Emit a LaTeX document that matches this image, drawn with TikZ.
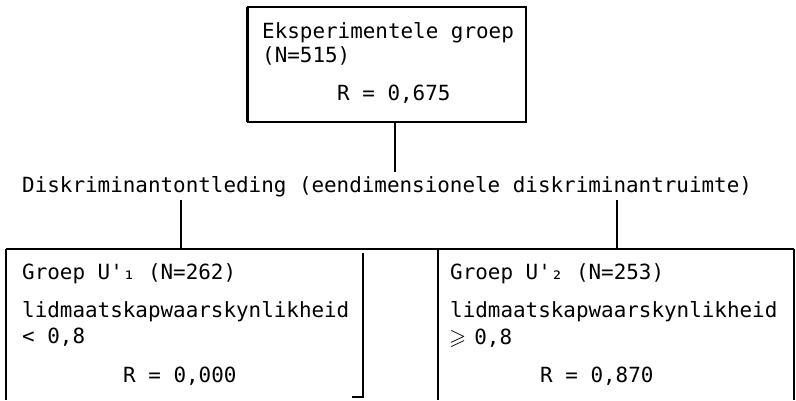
\documentclass[tikz,border=0pt]{standalone}
\usepackage{fontspec}
\usepackage{amssymb}
\newfontfamily\typew{DejaVu Sans Mono}
\begin{document}
\begin{tikzpicture}[x=1bp,y=-1bp,
  frame/.style={line width=1.7bp},
  heavy/.style={line width=2.8bp},
  area/.style={draw=none, inner sep=0pt},
  txt/.style={anchor=base west, inner sep=0pt,
    font=\typew\fontsize{20.9bp}{24bp}\selectfont}]
\useasboundingbox (0,0) rectangle (796,400);

% the three boxes
\node[area, minimum width=278bp, minimum height=114.5bp] (topbox) at (387,64.75) {};
\node[area, minimum width=356.5bp, minimum height=150.5bp] (lbox) at (184.75,324.75) {};
\node[area, minimum width=356bp, minimum height=150.5bp] (rbox) at (616,324.75) {};

% top box outline
\draw[frame] (topbox.north west) rectangle (topbox.south east);
\draw[heavy] (topbox.north west) -- (topbox.south west);

% lower boxes share one top rule
\draw[frame] (lbox.north west) -- (rbox.north east);
\draw[frame] (lbox.north west) -- (lbox.south west);
\draw[frame] ([yshift=-3.5bp]lbox.north east) -- ([yshift=3bp]lbox.south east) -- ++(-11,0);
\draw[frame] (rbox.north west) -- (rbox.south west);
\draw[frame] (rbox.north east) -- (rbox.south east);

% split label
\node[txt] (split) at (22,192) {Diskriminantontleding (eendimensionele diskriminantruimte)};

% connectors
\coordinate (t0) at (395,172);
\coordinate (l0) at (181,200);
\coordinate (r0) at (617,200);
\draw[heavy] (topbox.south -| t0) -- (t0);
\draw[heavy] (l0) -- (l0 |- lbox.north);
\draw[heavy] (r0) -- (r0 |- rbox.north);

% texts
\node[txt] (t1) at (262,38) {Eksperimentele groep};
\node[txt] (t2) at (262,62) {(N=515)};
\node[txt] (t3) at (337,100) {R = 0,675};

\node[txt] (a1) at (22,279) {Groep U'₁ (N=262)};
\node[txt] (a2) at (22,317) {lidmaatskapwaarskynlikheid};
\node[txt] (a3) at (22,343) {< 0,8};
\node[txt] (a4) at (123,382) {R = 0,000};

\node[txt] (b1) at (450,279) {Groep U'₂ (N=253)};
\node[txt] (b2) at (450,317) {lidmaatskapwaarskynlikheid};
\node[txt] (b3) at (449,344) {\makebox[12.6bp][l]{\scalebox{1.05}{$\geqslant$}} 0,8};
\node[txt] (b4) at (540,382) {R = 0,870};
\end{tikzpicture}
\end{document}
